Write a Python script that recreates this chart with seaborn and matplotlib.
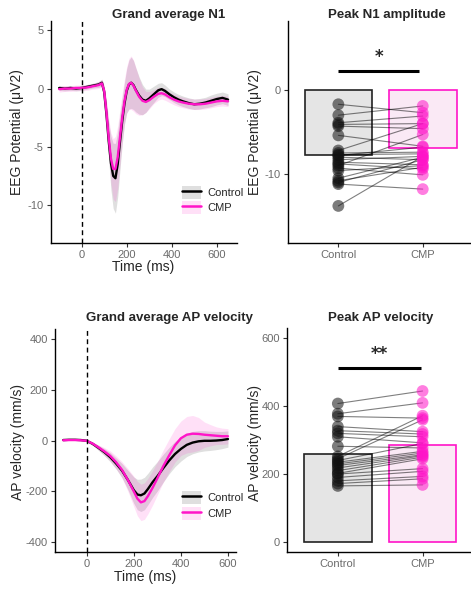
import numpy as np
import pandas as pd
import matplotlib
matplotlib.use("Agg")
import matplotlib.pyplot as plt
import seaborn as sns
from matplotlib.patches import Patch
from matplotlib.lines import Line2D

sns.set_theme(style="ticks")
plt.rcParams["font.family"] = ["Liberation Sans", "DejaVu Sans"]
plt.rcParams["axes.unicode_minus"] = False

W, H = 471, 591
CTRL_COL = "#000000"
CMP_COL = "#ff14c8"
groups = ["Control", "CMP"]

# ---------------- Grand average N1 (EEG) ----------------
n1_time = [-100, -75, -50, -25, 0, 25, 50, 75, 90, 100, 110, 120, 130, 140, 150,
           160, 170, 180, 190, 200, 210, 220, 230, 240, 255, 270, 285, 300, 320,
           340, 355, 370, 390, 410, 430, 450, 475, 500, 525, 550, 575, 600, 625, 650]
n1_ctrl_mean = [0.05, 0.0, 0.05, 0.0, 0.05, 0.15, 0.25, 0.35, 0.5, -0.3, -2.2, -4.5,
                -6.4, -7.5, -7.7, -6.5, -4.6, -2.8, -1.3, -0.2, 0.35, 0.5, 0.3, -0.1,
                -0.6, -0.95, -1.05, -0.85, -0.5, -0.15, -0.05, -0.2, -0.5, -0.75,
                -0.95, -1.1, -1.25, -1.35, -1.3, -1.2, -1.05, -0.9, -0.8, -0.95]
n1_ctrl_se = [0.2, 0.2, 0.2, 0.2, 0.2, 0.2, 0.2, 0.25, 0.3, 0.5, 1.0, 1.6, 2.3, 2.8,
              3.0, 2.8, 2.4, 2.0, 1.8, 1.9, 2.1, 2.2, 2.1, 1.9, 1.6, 1.3, 1.0, 0.8,
              0.7, 0.6, 0.55, 0.5, 0.45, 0.45, 0.45, 0.45, 0.45, 0.45, 0.45, 0.45,
              0.5, 0.5, 0.5, 0.5]
n1_cmp_mean = [-0.05, 0.0, 0.0, 0.05, 0.05, 0.1, 0.2, 0.3, 0.45, -0.2, -2.0, -4.2,
               -6.0, -6.9, -6.9, -5.9, -4.2, -2.5, -1.1, -0.1, 0.4, 0.5, 0.25, -0.15,
               -0.7, -1.05, -1.15, -1.0, -0.7, -0.45, -0.4, -0.5, -0.75, -0.95, -1.1,
               -1.2, -1.3, -1.35, -1.35, -1.3, -1.2, -1.1, -1.05, -1.1]
n1_cmp_se = [0.25, 0.25, 0.25, 0.25, 0.25, 0.25, 0.25, 0.3, 0.35, 0.5, 1.0, 1.6, 2.2,
             2.6, 2.8, 2.7, 2.4, 2.1, 1.9, 2.0, 2.2, 2.3, 2.2, 2.0, 1.6, 1.2, 0.9,
             0.75, 0.6, 0.55, 0.5, 0.5, 0.45, 0.45, 0.45, 0.45, 0.45, 0.45, 0.45,
             0.45, 0.45, 0.45, 0.45, 0.45]

# ---------------- Peak N1 amplitude (paired) ----------------
n1_peak_ctrl = [-1.7, -3.0, -3.9, -4.1, -4.3, -5.4, -7.2, -7.5, -7.7, -7.8, -8.0,
                -8.3, -8.6, -8.8, -9.0, -9.3, -9.6, -10.5, -10.8, -11.0, -11.2, -13.8]
n1_peak_cmp = [-2.7, -1.9, -3.1, -4.0, -4.6, -6.7, -4.0, -7.4, -7.6, -6.8, -8.3,
               -7.9, -8.9, -9.4, -5.3, -10.1, -9.0, -8.0, -9.2, -8.3, -11.8, -7.9]

# ---------------- Grand average AP velocity ----------------
ap_time = [-100, -75, -50, -25, 0, 25, 50, 75, 100, 125, 150, 175, 200, 215, 230,
           245, 260, 280, 300, 325, 350, 375, 400, 425, 450, 475, 500, 525, 550,
           575, 600]
ap_ctrl_mean = [3, 4, 4, 3, 0, -12, -28, -45, -65, -90, -118, -155, -195, -212,
                -215, -208, -190, -163, -140, -108, -78, -52, -32, -16, -7, -2, 0,
                0, 1, 3, 7]
ap_ctrl_se = [2, 2, 2, 2, 2, 6, 10, 14, 18, 22, 28, 38, 52, 60, 64, 64, 62, 60, 58,
              55, 52, 50, 48, 46, 44, 42, 40, 38, 36, 34, 32]
ap_cmp_mean = [2, 3, 3, 2, 0, -11, -26, -42, -60, -85, -115, -155, -200, -228, -243,
               -238, -218, -185, -148, -100, -58, -18, 10, 24, 28, 27, 24, 22, 20,
               18, 18]
ap_cmp_se = [2, 2, 2, 2, 2, 6, 10, 15, 20, 25, 32, 45, 60, 68, 72, 72, 70, 68, 65,
             64, 65, 66, 68, 72, 72, 65, 50, 42, 35, 32, 30]

# ---------------- Peak AP velocity (paired) ----------------
ap_peak_ctrl = [408, 378, 370, 340, 328, 320, 310, 282, 252, 245, 240, 235, 230,
                225, 218, 210, 202, 200, 190, 180, 172, 165]
ap_peak_cmp = [445, 410, 365, 325, 318, 310, 292, 277, 372, 360, 290, 267, 262,
               257, 254, 250, 245, 216, 208, 193, 186, 168]

palette = {"Control": CTRL_COL, "CMP": CMP_COL}
ribbon = {"Control": ("#808080", 0.25), "CMP": (CMP_COL, 0.13)}
bar_fill = {"Control": "#e5e5e5", "CMP": "#fde6f6"}
bar_edge = {"Control": "#222222", "CMP": CMP_COL}

fig = plt.figure(figsize=(W / 100, H / 100), dpi=100)


def add_axes(l, t, r, b):
    return fig.add_axes([l / W, 1 - b / H, (r - l) / W, (b - t) / H])


def style(ax):
    for s in ["top", "right"]:
        ax.spines[s].set_visible(False)
    for s in ["left", "bottom"]:
        ax.spines[s].set_linewidth(1.0)
        ax.spines[s].set_color("black")
    ax.tick_params(length=3, width=0.8, color="#333333", labelsize=8,
                   labelcolor="#6b6b6b", pad=2)
    ax.grid(False)
    ax.set_xlabel("")
    ax.set_ylabel("")


def wave_panel(ax, time, cm, cs, pm, ps):
    df = pd.DataFrame({
        "time": list(time) * 2,
        "value": list(cm) + list(pm),
        "se": list(cs) + list(ps),
        "group": ["Control"] * len(time) + ["CMP"] * len(time),
    })
    for g in groups:
        d = df[df.group == g]
        col, a = ribbon[g]
        ax.fill_between(d.time, d.value - d.se, d.value + d.se, color=col,
                        alpha=a, linewidth=0)
    sns.lineplot(data=df, x="time", y="value", hue="group", hue_order=groups,
                 palette=palette, linewidth=1.7, legend=False, ax=ax)
    ax.axvline(0, color="black", linestyle=(0, (3.5, 2.5)), linewidth=1.0)


def legend_at(left, top):
    handles = []
    for g in groups:
        col, a = ribbon[g]
        handles.append((Patch(facecolor=col, alpha=a, edgecolor="none"),
                        Line2D([], [], color=palette[g], linewidth=1.8)))
    fig.legend(handles, groups, loc="upper left",
               bbox_to_anchor=(left / W, 1 - top / H), frameon=False,
               fontsize=8, handlelength=1.65, handleheight=1.45,
               handletextpad=0.6, labelspacing=0.2, borderpad=0,
               borderaxespad=0)


def paired_panel(ax, ctrl, cmp):
    n = len(ctrl)
    df = pd.DataFrame({
        "subject": list(range(n)) * 2,
        "group": ["Control"] * n + ["CMP"] * n,
        "value": list(ctrl) + list(cmp),
    })
    df["pos"] = df.group.map({g: i for i, g in enumerate(groups)})
    sns.barplot(data=df, x="group", y="value", order=groups, hue="group",
                hue_order=groups, palette=bar_fill, errorbar=None, width=0.8,
                legend=False, ax=ax, zorder=1)
    for patch, g in zip(ax.patches, groups):
        patch.set_edgecolor(bar_edge[g])
        patch.set_linewidth(1.2)
    sns.lineplot(data=df, x="pos", y="value", units="subject", estimator=None,
                 color="black", alpha=0.5, linewidth=0.8, ax=ax, zorder=3)
    sns.stripplot(data=df, x="group", y="value", order=groups, hue="group",
                  hue_order=groups, palette={"Control": "#111111", "CMP": CMP_COL},
                  jitter=False, size=8.5, alpha=0.55, linewidth=0, legend=False,
                  ax=ax, zorder=4)
    ax.set_xlim(-0.6, 1.6)


# Panel A: grand average N1
ax1 = add_axes(50.7, 21, 236.5, 243)
wave_panel(ax1, n1_time, n1_ctrl_mean, n1_ctrl_se, n1_cmp_mean, n1_cmp_se)
ax1.set_xlim(-137.5, 687.5)
ax1.set_ylim(-13.26, 5.8)
ax1.set_xticks([0, 200, 400, 600])
ax1.set_yticks([5, 0, -5, -10])
style(ax1)
legend_at(182.3, 185.5)

# Panel B: peak N1 amplitude
ax2 = add_axes(287.7, 20.7, 473.4, 243.3)
paired_panel(ax2, n1_peak_ctrl, n1_peak_cmp)
ax2.set_ylim(-18.25, 8.25)
ax2.set_yticks([0, -10])
style(ax2)
ax2.plot([0, 0.956], [2.26, 2.26], color="black", linewidth=2.2,
         solid_capstyle="butt")
ax2.text(0.487, 3.9, "*", ha="center", va="center", fontsize=12,
         fontweight="bold", family="DejaVu Sans")

# Panel C: grand average AP velocity
ax3 = add_axes(55, 329.3, 236.2, 552.3)
wave_panel(ax3, ap_time, ap_ctrl_mean, ap_ctrl_se, ap_cmp_mean, ap_cmp_se)
ax3.set_xlim(-135, 635)
ax3.set_ylim(-440, 440)
ax3.set_xticks([0, 200, 400, 600])
ax3.set_yticks([-400, -200, 0, 200, 400])
style(ax3)
legend_at(182.3, 491.2)

# Panel D: peak AP velocity
ax4 = add_axes(287.0, 328.3, 473.4, 552.0)
paired_panel(ax4, ap_peak_ctrl, ap_peak_cmp)
ax4.set_ylim(-30, 630)
ax4.set_yticks([0, 200, 400, 600])
style(ax4)
ax4.plot([0, 0.98], [512, 512], color="black", linewidth=2.2,
         solid_capstyle="butt")
ax4.text(0.487, 554, "**", ha="center", va="center", fontsize=12,
         fontweight="bold", family="DejaVu Sans")

# Titles and axis labels
fig.text(169 / W, 1 - 18.3 / H, "Grand average N1", ha="center", va="baseline",
         fontsize=9.5, fontweight="bold")
fig.text(328 / W, 1 - 18.3 / H, "Peak N1 amplitude", ha="left", va="baseline",
         fontsize=9.5, fontweight="bold")
fig.text(169 / W, 1 - 320.5 / H, "Grand average AP velocity", ha="center",
         va="baseline", fontsize=9.5, fontweight="bold")
fig.text(328 / W, 1 - 320.5 / H, "Peak AP velocity", ha="left", va="baseline",
         fontsize=9.5, fontweight="bold")

fig.text(17 / W, 1 - 132 / H, "EEG Potential (μV2)", rotation=90, ha="center",
         va="center", fontsize=10)
fig.text(255 / W, 1 - 132.5 / H, "EEG Potential (μV2)", rotation=90, ha="center",
         va="center", fontsize=10)
fig.text(18 / W, 1 - 442 / H, "AP velocity (mm/s)", rotation=90, ha="center",
         va="center", fontsize=10)
fig.text(255.5 / W, 1 - 443 / H, "AP velocity (mm/s)", rotation=90, ha="center",
         va="center", fontsize=10)
fig.text(143 / W, 1 - 267 / H, "Time (ms)", ha="center", va="center", fontsize=10)
fig.text(145 / W, 1 - 577 / H, "Time (ms)", ha="center", va="center", fontsize=10)

fig.savefig("out.png", dpi=100, facecolor="white")
